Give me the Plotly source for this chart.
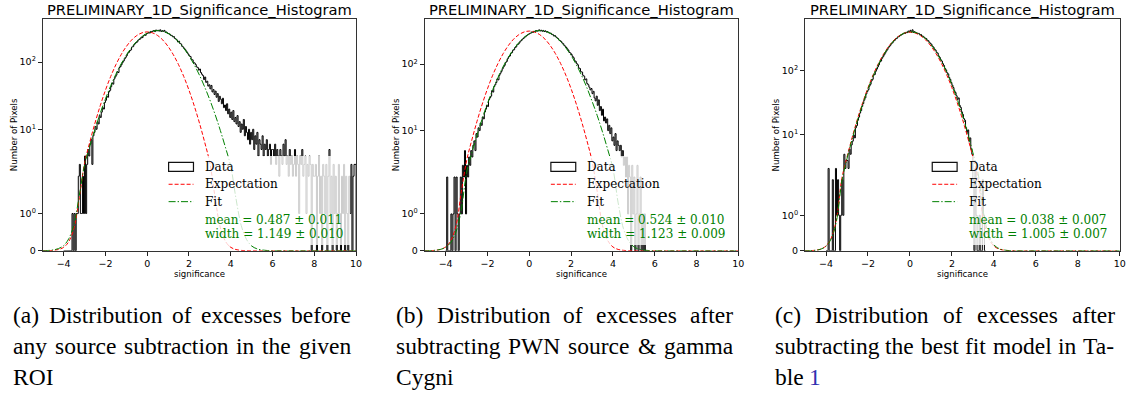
import math
import plotly.graph_objects as go

W, H = 1135, 400

# ---------------- data ----------------
bin_width = 0.05
hist_start = -4.0

counts_a = [
    0, 0, 0, 0, 0, 0, 0, 0, 1, 0, 1, 0, 1, 1, 2, 3, 1, 1, 2, 1,
    4, 1, 3, 5, 4, 6, 7, 3, 8, 9, 11, 10, 13, 12, 16, 15, 18, 21, 20, 25,
    27, 31, 30, 36, 38, 43, 49, 47, 56, 60, 64, 72, 70, 83, 86, 92, 99, 104, 112, 118,
    125, 136, 140, 148, 152, 168, 170, 181, 189, 196, 200, 213, 218, 222, 236, 232, 248, 255, 251, 266,
    268, 276, 271, 287, 282, 290, 296, 285, 301, 293, 298, 290, 303, 286, 294, 288, 297, 279, 281, 270,
    266, 262, 252, 250, 239, 241, 226, 221, 214, 200, 205, 190, 186, 172, 168, 160, 153, 146, 138, 131,
    124, 121, 110, 108, 99, 97, 92, 85, 83, 76, 79, 70, 66, 63, 55, 60, 50, 52, 44, 46,
    40, 45, 36, 39, 33, 37, 30, 34, 26, 31, 28, 24, 29, 21, 23, 19, 24, 17, 20, 15,
    18, 14, 19, 13, 15, 12, 16, 11, 13, 9, 12, 10, 14, 8, 11, 9, 7, 10, 6, 9,
    7, 10, 5, 8, 6, 9, 4, 7, 6, 5, 8, 4, 6, 5, 7, 4, 5, 6, 3, 5,
    5, 4, 6, 3, 5, 4, 2, 5, 4, 3, 6, 4, 7, 3, 4, 2, 5, 3, 4, 2,
    3, 5, 2, 4, 3, 1, 4, 3, 5, 2, 3, 4, 1, 3, 2, 4, 3, 0, 3, 2,
    2, 3, 0, 2, 4, 1, 2, 0, 3, 2, 1, 3, 0, 2, 5, 1, 2, 0, 3, 1,
    2, 0, 1, 3, 1, 0, 2, 1, 3, 0, 2, 1, 0, 2, 1, 3, 0, 2, 3, 3,
]

counts_b = [
    0, 2, 0, 0, 0, 1, 0, 1, 2, 0, 2, 1, 0, 1, 2, 1, 3, 2, 5, 1,
    3, 2, 4, 3, 5, 4, 6, 7, 5, 9, 8, 11, 10, 13, 12, 16, 15, 19, 21, 24,
    23, 29, 31, 33, 40, 38, 46, 49, 53, 60, 58, 68, 73, 78, 85, 91, 96, 106, 110, 121,
    129, 133, 146, 149, 162, 165, 178, 182, 196, 200, 208, 222, 226, 238, 243, 255, 258, 270, 276, 281,
    290, 293, 306, 300, 312, 308, 321, 314, 318, 329, 316, 324, 313, 322, 310, 317, 305, 309, 298, 294,
    293, 282, 280, 266, 270, 258, 250, 243, 231, 226, 220, 209, 203, 192, 186, 178, 170, 162, 150, 147,
    140, 131, 125, 113, 110, 102, 98, 88, 86, 77, 76, 68, 66, 58, 60, 51, 49, 45, 41, 43,
    36, 39, 31, 28, 33, 24, 29, 20, 23, 17, 21, 14, 16, 13, 15, 10, 12, 9, 11, 7,
    8, 6, 9, 5, 7, 6, 5, 6, 4, 5, 3, 4, 2, 4, 1, 3, 2, 0, 3, 1,
    2, 0, 1, 3, 0, 1, 2, 0, 1, 0, 1, 0,
]

counts_c = [
    0, 0, 3, 0, 0, 0, 2, 0, 0, 3, 1, 2, 1, 0, 1, 2, 1, 5, 3, 4,
    4, 3, 6, 5, 7, 8, 10, 9, 13, 14, 17, 19, 22, 24, 28, 31, 35, 38, 44, 48,
    51, 58, 62, 70, 74, 86, 88, 99, 107, 116, 125, 138, 143, 158, 167, 178, 190, 204, 214, 230,
    242, 253, 268, 276, 293, 301, 316, 322, 339, 344, 356, 362, 373, 380, 392, 386, 403, 398, 421, 408,
    432, 405, 440, 401, 412, 397, 395, 384, 387, 368, 372, 352, 349, 338, 327, 322, 305, 298, 283, 270,
    262, 244, 236, 220, 212, 196, 190, 172, 163, 150, 143, 130, 122, 110, 104, 94, 90, 79, 74, 66,
    60, 55, 49, 46, 41, 36, 38, 29, 27, 23, 21, 18, 17, 13, 11, 12, 8, 9, 6, 5,
    2, 0, 3, 1, 0, 0, 1, 0, 0, 2, 1, 0,
]

curve_x = [-5.0, -4.75, -4.5, -4.25, -4.0, -3.75, -3.5, -3.25, -3.0, -2.75, -2.5, -2.25,
           -2.0, -1.75, -1.5, -1.25, -1.0, -0.75, -0.5, -0.25, 0.0, 0.25, 0.5, 0.75,
           1.0, 1.25, 1.5, 1.75, 2.0, 2.25, 2.5, 2.75, 3.0, 3.25, 3.5, 3.75, 4.0, 4.25,
           4.5, 4.75, 5.0, 5.25, 5.5, 5.75, 6.0, 6.25, 6.5, 6.75, 7.0, 7.25, 7.5, 7.75,
           8.0, 8.25, 8.5, 8.75, 9.0, 9.25, 9.5, 9.75, 10.0]

expect_a = [0.001, 0.004, 0.011, 0.034, 0.094, 0.25, 0.62, 1.43, 3.13, 6.43, 12.4, 22.4,
            38.2, 61.0, 91.6, 129, 171, 213, 249, 273, 282, 273, 249, 213,
            171, 129, 91.6, 61.0, 38.2, 22.4, 12.4, 6.43, 3.13, 1.43, 0.62, 0.25, 0.094, 0.034,
            0.011, 0.004, 0.001, 0, 0, 0, 0, 0, 0, 0, 0, 0, 0, 0,
            0, 0, 0, 0, 0, 0, 0, 0, 0]
fit_a = [0.003, 0.009, 0.024, 0.06, 0.14, 0.33, 0.72, 1.49, 2.95, 5.58, 10.0, 17.3,
         28.3, 44.3, 66.0, 93.9, 127, 165, 204, 239, 270, 289, 295, 288,
         268, 237, 201, 162, 124, 91.5, 64.1, 42.7, 27.3, 16.6, 9.6, 5.31, 2.80, 1.40,
         0.68, 0.31, 0.13, 0.055, 0.022, 0.008, 0.003, 0.001, 0, 0, 0, 0, 0, 0,
         0, 0, 0, 0, 0, 0, 0, 0, 0]

expect_b = [0.001, 0.004, 0.013, 0.038, 0.105, 0.28, 0.69, 1.60, 3.50, 7.18, 13.8, 25.0,
            42.6, 68.1, 102, 144, 191, 238, 278, 305, 315, 305, 278, 238,
            191, 144, 102, 68.1, 42.6, 25.0, 13.8, 7.18, 3.50, 1.60, 0.69, 0.28, 0.105, 0.038,
            0.013, 0.004, 0.001, 0, 0, 0, 0, 0, 0, 0, 0, 0, 0, 0,
            0, 0, 0, 0, 0, 0, 0, 0, 0]
fit_b = [0.002, 0.005, 0.014, 0.038, 0.096, 0.23, 0.52, 1.12, 2.33, 4.6, 8.5, 15.1,
         25.6, 41.2, 63.0, 91.8, 127, 168, 211, 252, 287, 311, 320, 314,
         292, 260, 219, 176, 135, 98.3, 67.9, 44.6, 27.8, 16.8, 9.56, 5.2, 2.7, 1.30,
         0.61, 0.27, 0.11, 0.046, 0.018, 0.006, 0.002, 0.001, 0, 0, 0, 0, 0, 0,
         0, 0, 0, 0, 0, 0, 0, 0, 0]

expect_c = [0.0015, 0.005, 0.016, 0.049, 0.136, 0.36, 0.89, 2.06, 4.50, 9.23, 17.8, 32.2,
            54.8, 87.6, 131.5, 185.5, 245.6, 305.8, 357.4, 392.5, 405, 392.5, 357.4, 305.8,
            245.6, 185.5, 131.5, 87.6, 54.8, 32.2, 17.8, 9.23, 4.50, 2.06, 0.89, 0.36, 0.136, 0.049,
            0.016, 0.005, 0.0015, 0, 0, 0, 0, 0, 0, 0, 0, 0, 0, 0,
            0, 0, 0, 0, 0, 0, 0, 0, 0]
fit_c = [0.0014, 0.005, 0.015, 0.046, 0.13, 0.34, 0.84, 1.94, 4.25, 8.7, 16.9, 30.7,
         52.5, 84, 127, 180, 241, 302, 355, 394, 410, 401, 369, 319,
         259, 198, 142, 96, 61, 36.4, 20.4, 10.7, 5.3, 2.5, 1.09, 0.45, 0.17, 0.063,
         0.021, 0.007, 0.002, 0, 0, 0, 0, 0, 0, 0, 0, 0, 0, 0,
         0, 0, 0, 0, 0, 0, 0, 0, 0]

x_tick_vals = [-4, -2, 0, 2, 4, 6, 8, 10]
y_tick_vals = [0, 1, 10, 100]
y_tick_text = ["0", "10<sup>0</sup>", "10<sup>1</sup>", "10<sup>2</sup>"]

fit_text_a = ["mean = 0.487 ± 0.011", "width = 1.149 ± 0.010"]
fit_text_b = ["mean = 0.524 ± 0.010", "width = 1.123 ± 0.009"]
fit_text_c = ["mean = 0.038 ± 0.007", "width = 1.005 ± 0.007"]
legend_labels = ["Data", "Expectation", "Fit"]

panel_title = "PRELIMINARY_1D_Significance_Histogram"
x_label = "significance"
y_label = "Number of Pixels"

caption_a = ["(a) Distribution of excesses before", "any source subtraction in the given", "ROI"]
caption_b = ["(b) Distribution of excesses after", "subtracting PWN source & gamma", "Cygni"]
caption_c = ["(c) Distribution of excesses after", "subtracting the best fit model in Ta-", "ble 1"]

# ---------------- symlog scale (linthresh=2, linscale=1, base 10) ----------------
LINTHRESH = 2.0
LINSCALE_ADJ = 1.0 / (1.0 - 1.0 / 10.0)


def symlog(v):
    if v <= LINTHRESH:
        return v * LINSCALE_ADJ / LINTHRESH
    return LINSCALE_ADJ + math.log10(v / LINTHRESH)


# ---------------- layout geometry (pixels) ----------------
PLOT_TOP, PLOT_BOTTOM = 19, 254
panels = [
    dict(counts=counts_a, exp=expect_a, fit=fit_a, ftxt=fit_text_a, cap=caption_a,
         x0=43.0, x1=358.0, cx0=12, cx1=352),
    dict(counts=counts_b, exp=expect_b, fit=fit_b, ftxt=fit_text_b, cap=caption_b,
         x0=427.0, x1=742.3, cx0=397, cx1=736),
    dict(counts=counts_c, exp=expect_c, fit=fit_c, ftxt=fit_text_c, cap=caption_c,
         x0=809.3, x1=1125.7, cx0=778, cx1=1120),
]


def px(x):
    return x / W


def py(y):
    return 1 - y / H


RED = "#ff0000"
GREEN = "#008000"
EXP_DASH = "4px,2px"
FIT_DASH = "7px,2px,1.4px,2px"

fig = go.Figure()
shapes = []
annotations = []
layout_axes = {}


def seg(x0, y0, x1, y1, color, width, dash=None):
    ln = dict(color=color, width=width)
    if dash:
        ln["dash"] = dash
    return dict(type="line", xref="paper", yref="paper", x0=px(x0), x1=px(x1),
                y0=py(y0), y1=py(y1), line=ln, layer="above")


for i, p in enumerate(panels, start=1):
    xa = "x" if i == 1 else f"x{i}"
    ya = "y" if i == 1 else f"y{i}"

    # histogram step outline
    cnts = p["counts"]
    edges = [hist_start + k * bin_width for k in range(len(cnts) + 1)]
    hx = [edges[0]]
    hy = [0.0]
    for k, c in enumerate(cnts):
        hx.append(edges[k])
        hy.append(symlog(c))
    hx.append(edges[-1])
    hy.append(symlog(cnts[-1]))
    hx.append(edges[-1])
    hy.append(0.0)
    fig.add_trace(go.Scatter(x=hx, y=hy, mode="lines", xaxis=xa, yaxis=ya,
                             line=dict(color="black", width=1.0, shape="hv"),
                             hoverinfo="skip", showlegend=False))
    fig.add_trace(go.Scatter(x=curve_x, y=[symlog(v) for v in p["exp"]], mode="lines",
                             xaxis=xa, yaxis=ya,
                             line=dict(color=RED, width=1.0, dash=EXP_DASH, shape="spline"),
                             hoverinfo="skip", showlegend=False))
    fig.add_trace(go.Scatter(x=curve_x, y=[symlog(v) for v in p["fit"]], mode="lines",
                             xaxis=xa, yaxis=ya,
                             line=dict(color=GREEN, width=1.0, dash=FIT_DASH, shape="spline"),
                             hoverinfo="skip", showlegend=False))

    ymax = max(max(cnts), max(p["exp"]), max(p["fit"]))
    ytop = 1.05 * symlog(ymax)

    axis_common = dict(showline=True, mirror=True, linecolor="#333333", linewidth=1,
                       ticks="outside", ticklen=4, tickwidth=1, tickcolor="#222222",
                       showgrid=False, zeroline=False,
                       tickfont=dict(family="DejaVu Sans", size=9.5, color="black"))
    layout_axes["xaxis" if i == 1 else f"xaxis{i}"] = dict(
        domain=[px(p["x0"]), px(p["x1"])], anchor=ya, range=[-5, 10],
        tickmode="array", tickvals=x_tick_vals, **axis_common)
    layout_axes["yaxis" if i == 1 else f"yaxis{i}"] = dict(
        domain=[py(PLOT_BOTTOM), py(PLOT_TOP)], anchor=xa, range=[0, ytop],
        tickmode="array", tickvals=[symlog(v) for v in y_tick_vals], ticktext=y_tick_text,
        **axis_common)

    cx = (p["x0"] + p["x1"]) / 2
    # panel title
    annotations.append(dict(text=panel_title, x=px(cx), y=py(9.5), xref="paper", yref="paper",
                            xanchor="center", yanchor="middle", showarrow=False,
                            font=dict(family="DejaVu Sans", size=14.7, color="black")))
    # axis labels
    annotations.append(dict(text=x_label, x=px(cx), y=py(277), xref="paper", yref="paper",
                            xanchor="center", yanchor="middle", showarrow=False,
                            font=dict(family="DejaVu Sans", size=8.6, color="black")))
    annotations.append(dict(text=y_label, x=px(p["x0"] - 29.5), y=py((PLOT_TOP + PLOT_BOTTOM) / 2),
                            xref="paper", yref="paper", textangle=-90,
                            xanchor="center", yanchor="middle", showarrow=False,
                            font=dict(family="DejaVu Sans", size=8.6, color="black")))

    # legend (semi-transparent box like matplotlib)
    br = p["x1"] - 6
    bl = br - 187.5
    bt, bb = 158, 248
    shapes.append(dict(type="rect", xref="paper", yref="paper", x0=px(bl), x1=px(br),
                       y0=py(bb), y1=py(bt), fillcolor="rgba(255,255,255,0.8)",
                       line=dict(width=0), layer="above"))
    sx0, sx1 = bl + 5, bl + 30
    shapes.append(dict(type="rect", xref="paper", yref="paper", x0=px(sx0), x1=px(sx1),
                       y0=py(173.5), y1=py(164.5), fillcolor="white", opacity=1,
                       line=dict(color="#111111", width=1.2), layer="above"))
    shapes.append(seg(sx0, 186.6, sx1, 186.6, RED, 1.0, EXP_DASH))
    shapes.append(seg(sx0, 204.2, sx1, 204.2, GREEN, 1.0, FIT_DASH))
    rows_y = [169, 186.6, 204.2]
    for lab, yy in zip(legend_labels, rows_y):
        annotations.append(dict(text=lab, x=px(bl + 39.5), y=py(yy), xref="paper", yref="paper",
                                xanchor="left", yanchor="middle", showarrow=False,
                                font=dict(family="DejaVu Serif", size=12, color="black")))
    for lab, yy in zip(p["ftxt"], [222.3, 236.7]):
        annotations.append(dict(text=lab, x=px(bl + 39.5), y=py(yy), xref="paper", yref="paper",
                                xanchor="left", yanchor="middle", showarrow=False,
                                font=dict(family="DejaVu Serif", size=12, color=GREEN)))

# ---------------- captions (justified like LaTeX) ----------------
TIMES_W = {' ': 250, '(': 333, ')': 333, '&': 778, '-': 333, '1': 500,
           'a': 444, 'b': 500, 'c': 444, 'd': 500, 'e': 444, 'f': 333, 'g': 500, 'h': 500,
           'i': 278, 'j': 278, 'k': 500, 'l': 278, 'm': 778, 'n': 500, 'o': 500, 'p': 500,
           'q': 500, 'r': 333, 's': 389, 't': 278, 'u': 500, 'v': 500, 'w': 722, 'x': 500,
           'y': 500, 'z': 444, 'C': 667, 'D': 722, 'I': 333, 'N': 722, 'O': 722, 'P': 556,
           'R': 667, 'T': 611, 'W': 944}
CAP_SIZE = 23.5
CAP_Y = [319, 350.5, 382]


def tw(s):
    return sum(TIMES_W.get(ch, 500) for ch in s) / 1000.0 * CAP_SIZE


for p in panels:
    for li, line in enumerate(p["cap"]):
        words = line.split(" ")
        widths = [tw(w) for w in words]
        last = li == len(p["cap"]) - 1
        if not last and len(words) > 1:
            gap = (p["cx1"] - p["cx0"] - sum(widths)) / (len(words) - 1)
        else:
            gap = tw(" ")
        x = p["cx0"]
        for w, wd in zip(words, widths):
            color = "#3030b0" if (last and w == "1") else "black"
            annotations.append(dict(text=w.replace("&", "&amp;"), x=px(x - 1), y=py(CAP_Y[li]),
                                    xref="paper", yref="paper", xanchor="left", yanchor="middle",
                                    showarrow=False,
                                    font=dict(family="Liberation Serif", size=CAP_SIZE, color=color)))
            x += wd + gap

fig.update_layout(width=W, height=H, margin=dict(l=0, r=0, t=0, b=0),
                  paper_bgcolor="white", plot_bgcolor="white", showlegend=False,
                  shapes=shapes, annotations=annotations, **layout_axes)

fig.write_html("out.html", config={"displayModeBar": False},
               post_script="document.body.style.margin='0px';document.body.style.padding='0px';")
